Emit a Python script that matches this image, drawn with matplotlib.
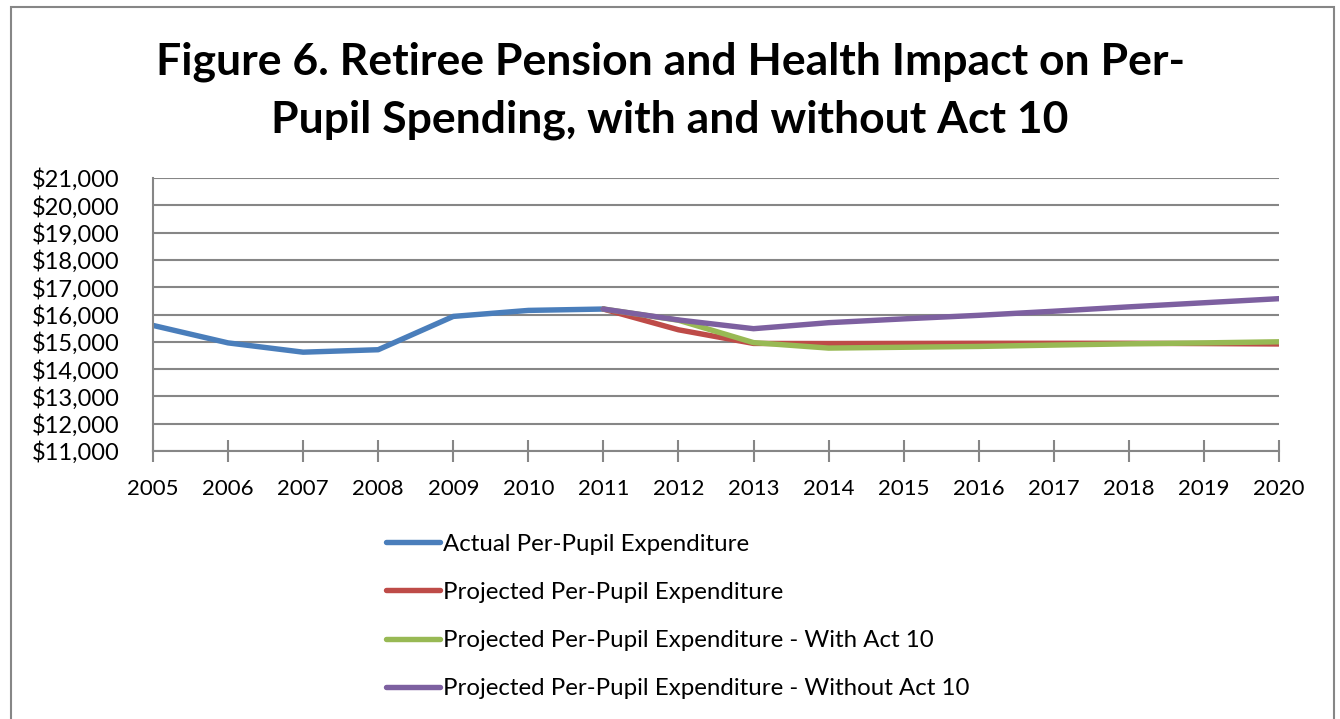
import matplotlib
matplotlib.use("Agg")
import matplotlib.pyplot as plt
from matplotlib.patches import Rectangle
from matplotlib.ticker import FuncFormatter, MultipleLocator

years = list(range(2005, 2021))

actual_years = [2005, 2006, 2007, 2008, 2009, 2010, 2011]
actual = [15600, 14960, 14620, 14710, 15930, 16150, 16200]

proj_years = list(range(2011, 2021))
projected = [16200, 15440, 14940, 14935, 14940, 14945, 14945, 14945, 14935, 14920]
with_act10 = [16200, 15790, 14970, 14770, 14800, 14830, 14880, 14925, 14960, 15000]
without_act10 = [16200, 15800, 15480, 15700, 15840, 15970, 16120, 16280, 16430, 16580]

labels = [
    "Actual Per-Pupil Expenditure",
    "Projected Per-Pupil Expenditure",
    "Projected Per-Pupil Expenditure - With Act 10",
    "Projected Per-Pupil Expenditure - Without Act 10",
]
colors = ["#4A7EBB", "#BE4B48", "#98B954", "#7D60A0"]

W, H = 1340, 719
plt.rcParams["font.family"] = ["Lato", "DejaVu Sans"]

fig = plt.figure(figsize=(W / 100, H / 100), dpi=100)
fig.patch.set_facecolor("white")

# outer chart frame
fig.add_artist(Rectangle((11 / W, -0.02), (1334 - 11) / W, 1.02 - 7 / H,
                         transform=fig.transFigure, fill=False,
                         edgecolor="#868686", linewidth=1.5))

fig.text(0.5, 1 - 62 / H, "Figure 6. Retiree Pension and Health Impact on Per-",
         ha="center", va="center", fontsize=32, fontweight="bold")
fig.text(0.5, 1 - 120 / H, "Pupil Spending, with and without Act 10",
         ha="center", va="center", fontsize=32, fontweight="bold")

left, right, top, bottom = 153, 1279, 178, 451
ax = fig.add_axes([left / W, 1 - bottom / H, (right - left) / W, (bottom - top) / H])

lw = 3.9
ax.plot(actual_years, actual, color=colors[0], lw=lw, label=labels[0], solid_capstyle="round")
ax.plot(proj_years, projected, color=colors[1], lw=lw, label=labels[1], solid_capstyle="round")
ax.plot(proj_years, with_act10, color=colors[2], lw=lw, label=labels[2], solid_capstyle="round")
ax.plot(proj_years, without_act10, color=colors[3], lw=lw, label=labels[3], solid_capstyle="round")

ax.set_xlim(2005, 2020)
ax.set_ylim(11000, 21000)
ax.set_xticks(years)
ax.yaxis.set_major_locator(MultipleLocator(1000))
ax.yaxis.set_major_formatter(FuncFormatter(lambda v, p: f"${v:,.0f}"))
ax.grid(axis="y", color="#868686", linewidth=1.5)
ax.set_axisbelow(True)
for s in ["top", "right"]:
    ax.spines[s].set_visible(False)
for s in ["left", "bottom"]:
    ax.spines[s].set_color("#868686")
    ax.spines[s].set_linewidth(1.5)
ax.tick_params(axis="x", direction="inout", length=16, width=1.5, color="#868686",
               labelsize=16, pad=12)
ax.tick_params(axis="y", length=0, labelsize=17, pad=24)

fig.legend(loc="upper left", bbox_to_anchor=(364 / W, 1 - 512 / H), frameon=False,
           fontsize=17.3, handlelength=2.25, handletextpad=0.15, labelspacing=1.13)

fig.savefig("out.png", dpi=100)
